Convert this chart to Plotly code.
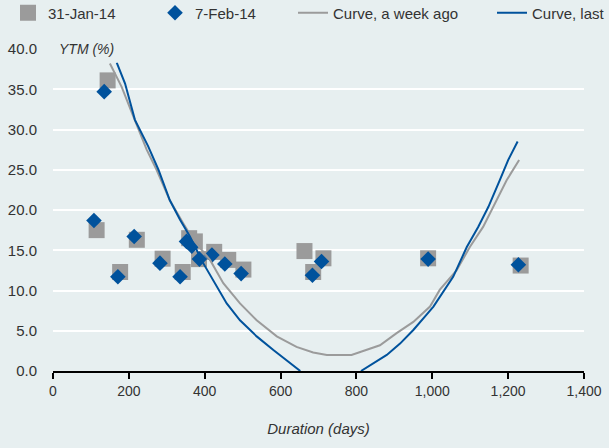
import plotly.graph_objects as go

# ---- data ----
jan_x = [144, 115, 177, 221, 289, 342, 359, 374, 385, 425, 462, 502, 663, 713, 686, 989, 1233]
jan_y = [36.1, 17.5, 12.3, 16.3, 13.95, 12.3, 16.5, 16.1, 13.9, 14.8, 13.8, 12.6, 14.9, 14.0, 12.3, 14.0, 13.1]

feb_x = [135, 108, 171, 214, 282, 335, 352, 366, 386, 419, 453, 496, 708, 684, 989, 1227]
feb_y = [34.7, 18.7, 11.7, 16.7, 13.4, 11.7, 16.1, 15.5, 13.9, 14.4, 13.3, 12.1, 13.6, 11.9, 13.9, 13.2]

week_ago_x = [150, 181, 212, 247, 273, 308, 344, 370, 414, 449, 493, 537, 590, 642, 686, 722,
              787, 818, 862, 906, 950, 994, 1020, 1064, 1099, 1134, 1170, 1196, 1229]
week_ago_y = [38.2, 35.3, 31.6, 27.5, 25.0, 21.2, 18.3, 16.3, 13.8, 10.9, 8.4, 6.3, 4.3, 3.0, 2.3, 2.0,
              2.0, 2.5, 3.2, 4.7, 6.1, 8.0, 10.1, 12.5, 15.4, 17.9, 21.2, 23.7, 26.2]

last_x = [168, 190, 216, 251, 278, 308, 335, 361, 396, 427, 458, 493, 537, 581, 625, 652, None,
          812, 844, 880, 915, 950, 985, 1003, 1055, 1091, 1121, 1148, 1178, 1200, 1225]
last_y = [38.3, 35.7, 31.2, 27.9, 25.0, 21.2, 18.8, 16.7, 13.4, 10.9, 8.4, 6.3, 4.3, 2.6, 0.95, 0.0, None,
          0.0, 0.95, 2.0, 3.4, 5.1, 7.0, 8.0, 11.7, 15.4, 17.9, 20.4, 23.7, 26.2, 28.5]

x_ticks = [0, 200, 400, 600, 800, 1000, 1200, 1400]
x_tick_text = ["0", "200", "400", "600", "800", "1,000", "1,200", "1,400"]
y_ticks = [0, 5, 10, 15, 20, 25, 30, 35, 40]

W, H = 609, 448
BG = "#e7eff0"
GRAY = "#9b9b9b"
BLUE = "#00529c"
FONT = "Liberation Sans, Arial, sans-serif"
TXT = "#333333"

fig = go.Figure()
fig.add_trace(go.Scatter(x=jan_x, y=jan_y, mode="markers", name="31-Jan-14", legend="legend",
                         marker=dict(symbol="square", size=16, color=GRAY)))
fig.add_trace(go.Scatter(x=feb_x, y=feb_y, mode="markers", name="7-Feb-14", legend="legend2",
                         marker=dict(symbol="diamond", size=12, color=BLUE)))
fig.add_trace(go.Scatter(x=week_ago_x, y=week_ago_y, mode="lines", name="Curve, a week ago",
                         legend="legend3", line=dict(color=GRAY, width=2)))
fig.add_trace(go.Scatter(x=last_x, y=last_y, mode="lines", name="Curve, last", legend="legend4",
                         line=dict(color=BLUE, width=2), connectgaps=False))


def leg(px):
    return dict(orientation="h", x=px / W, y=1 - 13 / H, xref="container", yref="container",
                xanchor="left", yanchor="middle", bgcolor="rgba(0,0,0,0)",
                font=dict(family=FONT, size=15, color=TXT), itemwidth=30)


fig.update_layout(
    width=W, height=H,
    paper_bgcolor=BG, plot_bgcolor=BG,
    margin=dict(l=53, r=25, t=49, b=77, autoexpand=False),
    font=dict(family=FONT, size=15, color=TXT),
    showlegend=True,
    legend=leg(8), legend2=leg(155), legend3=leg(293), legend4=leg(492),
    xaxis=dict(range=[0, 1400], tickvals=x_ticks, ticktext=x_tick_text,
               showgrid=False, zeroline=False, showline=True, linecolor="black", linewidth=1.5,
               ticks="outside", ticklen=6, tickcolor="black", tickwidth=1.5,
               tickfont=dict(size=14),
               title=dict(text="Duration (days)", standoff=26,
                          font=dict(family=FONT, size=15, color=TXT, style="italic")),
               fixedrange=True),
    yaxis=dict(range=[0, 40], tickvals=y_ticks, tickformat=".1f",
               showgrid=True, gridcolor="white", gridwidth=2, zeroline=False, showline=False,
               ticks="", ticklabelstandoff=15, fixedrange=True),
    annotations=[dict(text="YTM (%)", xref="paper", x=0, xanchor="left", yref="y", y=40,
                      yanchor="middle", showarrow=False, bgcolor=BG, borderpad=5,
                      font=dict(family=FONT, size=14, color=TXT, style="italic"))],
)

fig.write_html("out.html", config={"displayModeBar": False},
               post_script="document.body.style.margin='0';")
